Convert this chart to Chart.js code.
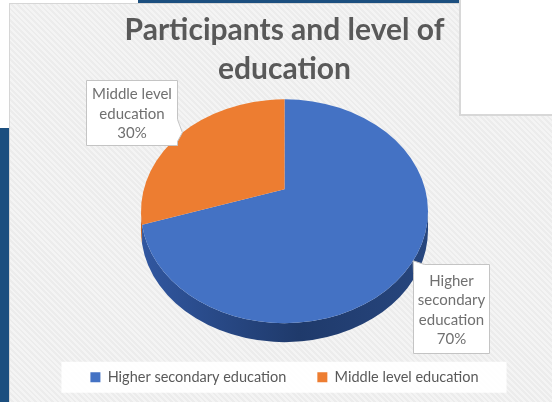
<!DOCTYPE html>
<html>
<head>
<meta charset="utf-8">
<script src="https://cdn.jsdelivr.net/npm/chart.js@4.4.1/dist/chart.umd.min.js"></script>
<style>
  body { margin: 0; background: #fff; }
  #slide { position: relative; width: 552px; height: 402px; overflow: hidden; background: #fff; }
  .navy { position: absolute; background: #1c4f7f; }
  #panel { position: absolute; left: 9px; top: 3px; right: -2px; bottom: -2px; border: 1px solid #d6d6d6;
    background: repeating-linear-gradient(45deg, #f4f4f4 0 2px, #ececec 2px 4px); }
  #note { position: absolute; left: 459px; top: 0; width: 100px; height: 114px; background: #fff;
    border-left: 2px solid #d8d8d8; border-bottom: 2px solid #d8d8d8; }
  canvas { position: absolute; left: 0; top: 0; }
</style>
</head>
<body>
<div id="slide">
  <div class="navy" style="left:0;top:128px;width:9px;height:274px"></div>
  <div class="navy" style="left:138px;top:0;width:322px;height:4px"></div>
  <div id="panel"></div>
  <div id="note"></div>
  <canvas id="eduChart" width="552" height="402"></canvas>
</div>
<script>
// participants by level of education
var categories = ['Higher secondary education', 'Middle level education'];
var shares = [70, 30];
var calloutLines = [['Higher', 'secondary', 'education'], ['Middle level', 'education']];

var sliceColors = ['#4472c4', '#ed7d31'];
var sideColors = [['#3157a0', '#1f3a6b', '#27467e'], ['#c8631f', '#a9521a', '#a9521a']];

var TILT = 0.78;   // ry / rx of the top face
var DEPTH = 19;    // thickness of the pie
var LIFT = 0.196;  // apex sits above the ellipse centre (perspective)

// callout boxes, placed relative to the rim point of each slice
var calloutBoxes = [
    { dx: 0, dy: 3, w: 76, h: 89, notch: 'corner' },
    { dx: -96, dy: -53, w: 91, h: 65, notch: 'right' }
];

// slice angle -> ellipse parameter, with the apex pulled up by LIFT
function rimAngle(theta) {
    var p = (1 - Math.sqrt(1 - LIFT * LIFT)) / LIFT;
    var zx = Math.cos(theta), zy = Math.sin(theta);
    var nx = zx, ny = zy - p;
    var dx = 1 - p * zy, dy = p * zx;
    return Math.atan2(ny * dx - nx * dy, nx * dx + ny * dy);
}

function pieFrame(chart) {
    var arc = chart.getDatasetMeta(0).data[0];
    var rx = arc.outerRadius, ry = rx * TILT;
    var cy = arc.y - DEPTH / 2;
    return { cx: arc.x, cy: cy, rx: rx, ry: ry, apexY: cy - LIFT * ry };
}

function arcSpan(arc) {
    var a0 = rimAngle(arc.startAngle), a1 = rimAngle(arc.endAngle);
    while (a1 <= a0) a1 += Math.PI * 2;
    return [a0, a1];
}

var pie3d = {
    id: 'pie3d',
    beforeDraw: function (chart) {
        // white band behind the legend
        var lg = chart.legend, ctx = chart.ctx;
        if (!lg || !lg.legendHitBoxes || !lg.legendHitBoxes.length) return;
        var hb = lg.legendHitBoxes;
        var left = hb[0].left, last = hb[hb.length - 1];
        var right = last.left + last.width;
        var mid = hb[0].top + hb[0].height / 2;
        ctx.save();
        ctx.fillStyle = 'rgba(255,255,255,0.92)';
        ctx.fillRect(left - 29, mid - 15.5, right - left + 57, 31);
        ctx.restore();
    },
    beforeDatasetsDraw: function (chart) {
        var ctx = chart.ctx, f = pieFrame(chart);
        var arcs = chart.getDatasetMeta(0).data;
        ctx.save();
        // side wall, only the front half is visible
        arcs.forEach(function (arc, i) {
            var s = arcSpan(arc);
            for (var k = -1; k <= 1; k++) {
                var lo = Math.max(s[0], k * 2 * Math.PI);
                var hi = Math.min(s[1], k * 2 * Math.PI + Math.PI);
                if (hi <= lo) continue;
                var g = ctx.createLinearGradient(f.cx - f.rx, 0, f.cx + f.rx, 0);
                g.addColorStop(0, sideColors[i][0]);
                g.addColorStop(0.55, sideColors[i][1]);
                g.addColorStop(1, sideColors[i][2]);
                ctx.beginPath();
                ctx.ellipse(f.cx, f.cy, f.rx, f.ry, 0, lo, hi);
                ctx.ellipse(f.cx, f.cy + DEPTH, f.rx, f.ry, 0, hi, lo, true);
                ctx.closePath();
                ctx.fillStyle = g;
                ctx.fill();
            }
        });
        // top faces
        arcs.forEach(function (arc) {
            var s = arcSpan(arc);
            ctx.beginPath();
            ctx.moveTo(f.cx, f.apexY);
            ctx.ellipse(f.cx, f.cy, f.rx, f.ry, 0, s[0], s[1]);
            ctx.closePath();
            ctx.fillStyle = arc.options.backgroundColor;
            ctx.fill();
        });
        ctx.restore();
        return false;
    },
    afterDraw: function (chart) {
        var ctx = chart.ctx, f = pieFrame(chart);
        var arcs = chart.getDatasetMeta(0).data;
        var total = shares.reduce(function (s, v) { return s + v; }, 0);
        ctx.save();
        arcs.forEach(function (arc, i) {
            var t = rimAngle((arc.startAngle + arc.endAngle) / 2);
            var tipX = f.cx + f.rx * Math.cos(t), tipY = f.cy + f.ry * Math.sin(t);
            var b = calloutBoxes[i];
            var L = Math.round(tipX + b.dx) + 0.5, T = Math.round(tipY + b.dy) + 0.5;
            var R = L + b.w, B = T + b.h;
            ctx.beginPath();
            if (b.notch === 'corner') {
                ctx.moveTo(L + 11, T);
                ctx.lineTo(R, T); ctx.lineTo(R, B); ctx.lineTo(L, B);
                ctx.lineTo(L, T + 9); ctx.lineTo(tipX, tipY);
            } else {
                ctx.moveTo(L, T);
                ctx.lineTo(R, T); ctx.lineTo(R, T + 39); ctx.lineTo(tipX, tipY);
                ctx.lineTo(R, T + 61); ctx.lineTo(R, B); ctx.lineTo(L, B);
            }
            ctx.closePath();
            ctx.fillStyle = '#ffffff';
            ctx.fill();
            ctx.strokeStyle = '#c4c4c4';
            ctx.lineWidth = 1;
            ctx.stroke();

            var lines = calloutLines[i].concat([Math.round(shares[i] / total * 100) + '%']);
            var lh = 19.5;
            var y0 = (T + B) / 2 - (lines.length - 1) * lh / 2 + 1;
            ctx.fillStyle = '#707070';
            ctx.font = '15px Lato';
            ctx.textAlign = 'center';
            ctx.textBaseline = 'middle';
            lines.forEach(function (ln, j) {
                ctx.fillText(ln, (L + R) / 2, y0 + j * lh);
            });
        });
        ctx.restore();
    }
};

new Chart(document.getElementById('eduChart'), {
    type: 'pie',
    data: {
        labels: categories,
        datasets: [{
            data: shares,
            backgroundColor: sliceColors,
            borderWidth: 0,
            radius: 143.5
        }]
    },
    options: {
        responsive: false,
        animation: false,
        events: [],
        layout: { padding: { left: 17, bottom: 7.5 } },
        plugins: {
            title: {
                display: true,
                text: ['Participants and level of', 'education'],
                color: '#595959',
                font: { family: 'Lato', size: 30, weight: 'bold', lineHeight: 1.3 },
                padding: { top: 10.5, bottom: 14 }
            },
            legend: {
                position: 'bottom',
                labels: {
                    color: '#595959',
                    font: { family: 'Lato', size: 14.5 },
                    boxWidth: 10,
                    boxHeight: 10,
                    padding: 31
                }
            },
            tooltip: { enabled: false }
        }
    },
    plugins: [pie3d]
});
</script>
</body>
</html>
